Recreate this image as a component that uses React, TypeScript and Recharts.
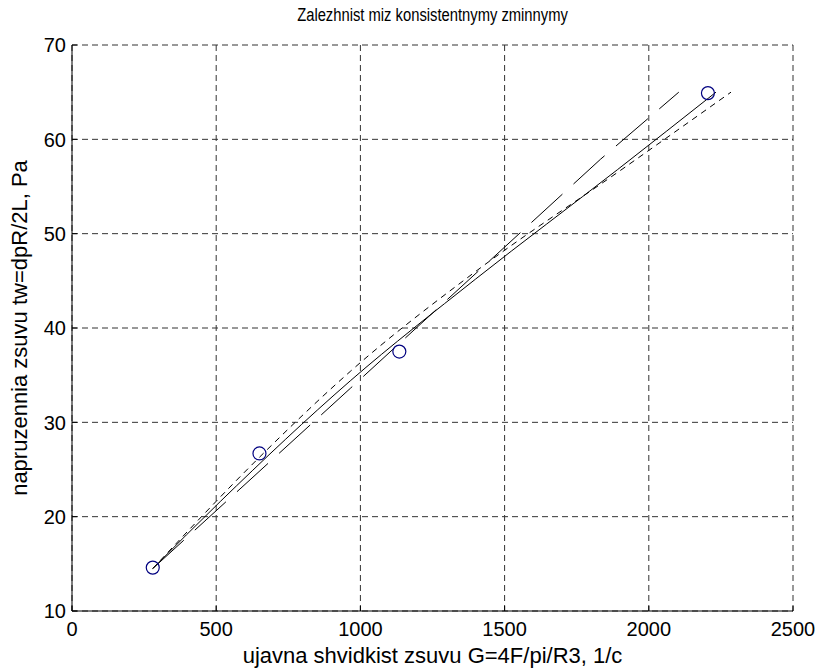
import {
  ComposedChart,
  Line,
  Scatter,
  XAxis,
  YAxis,
  CartesianGrid,
} from "recharts";

// tick values
const xTicks = [0, 500, 1000, 1500, 2000, 2500];
const yTicks = [10, 20, 30, 40, 50, 60, 70];

// measured points (circles)
const measX = [280, 650, 1135, 2205];
const measY = [14.6, 26.7, 37.5, 64.9];

// fitted curves
const solidX = [280, 514, 965, 1400, 1892, 2233];
const solidY = [14.5, 21.6, 34.4, 45.2, 56.8, 65.0];
const shortX = [280, 650, 965, 1400, 1920, 2285];
const shortY = [14.5, 26.3, 35.4, 46.0, 57.1, 65.0];
const longX = [280, 965, 1833, 2104];
const longY = [14.5, 33.6, 57.9, 65.0];

const title = "Zalezhnist miz konsistentnymy zminnymy";
const xLabel = "ujavna shvidkist zsuvu G=4F/pi/R3, 1/c";
const yLabel = "napruzennia zsuvu tw=dpR/2L, Pa";

const toRows = (xs: number[], ys: number[]) => xs.map((x, i) => ({ x, y: ys[i] }));

const FONT = "'Liberation Sans', Arial, Helvetica, sans-serif";
const TICK_LEN = 5;
const TICK_FONT = 20;
const LABEL_FONT = 22;

function LeftTick({ x, y, payload }: any) {
  return (
    <g>
      <line x1={x} x2={x + TICK_LEN} y1={y} y2={y} stroke="#000" />
      <text x={x - 6} y={y} dy="0.36em" textAnchor="end" fontSize={TICK_FONT} fontFamily={FONT} fill="#000">
        {payload.value}
      </text>
    </g>
  );
}

function BottomTick({ x, y, payload }: any) {
  return (
    <g>
      <line x1={x} x2={x} y1={y} y2={y - TICK_LEN} stroke="#000" />
      <text x={x} y={y + 25} textAnchor="middle" fontSize={TICK_FONT} fontFamily={FONT} fill="#000">
        {payload.value}
      </text>
    </g>
  );
}

function TopTick({ x, y }: any) {
  return <line x1={x} x2={x} y1={y} y2={y + TICK_LEN} stroke="#000" />;
}

function RightTick({ x, y }: any) {
  return <line x1={x} x2={x - TICK_LEN} y1={y} y2={y} stroke="#000" />;
}

function Ring({ cx, cy }: any) {
  return <circle cx={cx} cy={cy} r={6.5} fill="none" stroke="#000080" strokeWidth={1.2} />;
}

export default function App() {
  const points = toRows(measX, measY);
  return (
    <div style={{ position: "absolute", left: 0, top: 0, width: 818, height: 670, background: "#fff" }}>
      <div
        style={{
          position: "absolute",
          left: 72,
          width: 721,
          top: 5,
          textAlign: "center",
          fontFamily: FONT,
          fontSize: 18,
          color: "#000",
          transform: "scaleX(0.82)",
          transformOrigin: "center",
        }}
      >
        {title}
      </div>
      <ComposedChart
        width={818}
        height={670}
        margin={{ top: 45, right: 25, bottom: 0, left: 0 }}
      >
        <CartesianGrid stroke="#333" strokeDasharray="6 4" horizontalValues={yTicks} verticalValues={xTicks} />
        <XAxis
          dataKey="x"
          type="number"
          domain={[0, 2500]}
          ticks={xTicks}
          height={59}
          tickSize={0}
          tickMargin={0}
          tickLine={false}
          tick={<BottomTick />}
          axisLine={{ stroke: "#000" }}
          interval={0}
          label={{ value: xLabel, position: "insideBottom", offset: 7, fontSize: LABEL_FONT, fontFamily: FONT, fill: "#000" }}
        />
        <XAxis
          xAxisId="top"
          orientation="top"
          dataKey="x"
          type="number"
          domain={[0, 2500]}
          ticks={xTicks}
          height={0}
          tickSize={0}
          tickMargin={0}
          tickLine={false}
          tick={<TopTick />}
          axisLine={false}
          interval={0}
        />
        <YAxis
          type="number"
          domain={[10, 70]}
          ticks={yTicks}
          width={72}
          tickSize={0}
          tickMargin={0}
          tickLine={false}
          tick={<LeftTick />}
          axisLine={{ stroke: "#000" }}
          interval={0}
          label={{
            value: yLabel,
            angle: -90,
            position: "insideLeft",
            offset: 19,
            fontSize: LABEL_FONT,
            fontFamily: FONT,
            fill: "#000",
            style: { textAnchor: "middle" },
          }}
        />
        <YAxis
          yAxisId="right"
          orientation="right"
          type="number"
          domain={[10, 70]}
          ticks={yTicks}
          width={0}
          tickSize={0}
          tickMargin={0}
          tickLine={false}
          tick={<RightTick />}
          axisLine={false}
          interval={0}
        />
        <Line
          data={toRows(solidX, solidY)}
          dataKey="y"
          type="monotone"
          stroke="#000"
          strokeWidth={1}
          dot={false}
          activeDot={false}
          isAnimationActive={false}
        />
        <Line
          data={toRows(shortX, shortY)}
          dataKey="y"
          type="monotone"
          stroke="#000"
          strokeWidth={1}
          strokeDasharray="6 5"
          dot={false}
          activeDot={false}
          isAnimationActive={false}
        />
        <Line
          data={toRows(longX, longY)}
          dataKey="y"
          type="linear"
          stroke="#000"
          strokeWidth={1}
          strokeDasharray="42 15"
          dot={false}
          activeDot={false}
          isAnimationActive={false}
        />
        <Scatter data={points} dataKey="y" shape={<Ring />} isAnimationActive={false} />
      </ComposedChart>
    </div>
  );
}
